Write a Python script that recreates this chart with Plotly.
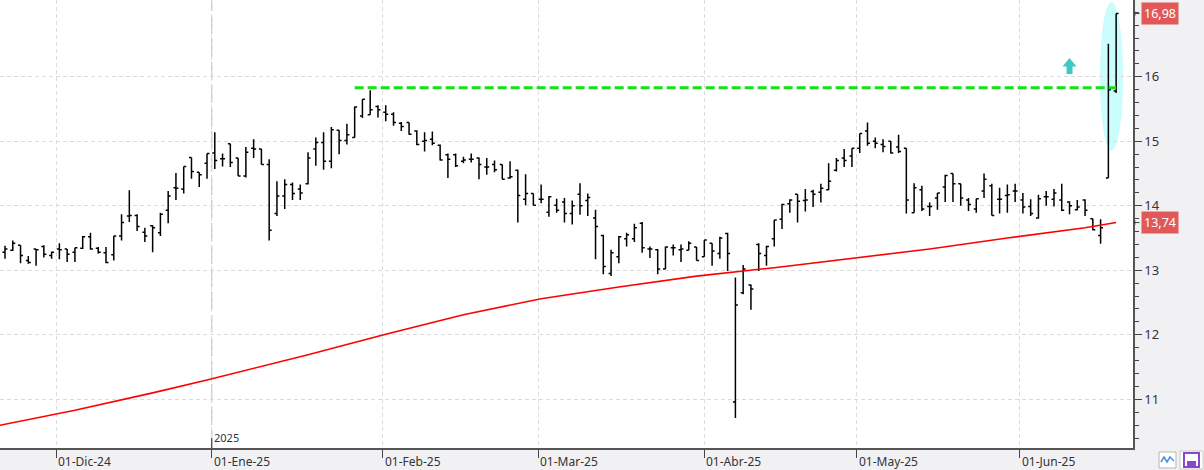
import pandas as pd
import plotly.graph_objects as go

# ---------------- data ----------------
open_ = [13.35, 13.28, 13.31, 13.39, 13.15, 13.33, 13.37, 13.23, 13.33, 13.33,
         13.28, 13.34, 13.52, 13.34, 13.27, 13.24, 13.53, 13.84, 13.85, 13.59,
         13.69, 13.58, 13.93, 14.28, 14.26, 14.75, 14.52, 14.66, 14.82, 14.73,
         14.96, 14.74, 14.46, 14.89, 14.88, 14.64, 13.88, 14.15, 14.33, 14.26,
         14.34, 14.88, 14.98, 14.69, 15.17, 15.01, 15.06, 15.39, 15.41, 15.54,
         15.45, 15.42, 15.28, 15.29, 15.16, 15.00, 15.03, 14.94, 14.79, 14.79,
         14.69, 14.72, 14.74, 14.60, 14.64, 14.64, 14.43, 14.55, 14.10, 14.19,
         14.10, 13.90, 14.01, 14.06, 13.88, 14.18, 14.08, 13.81, 13.54, 12.95,
         13.21, 13.49, 13.49, 13.73, 13.33, 13.32, 13.02, 13.35, 13.32, 13.31,
         13.36, 13.21, 13.42, 13.26, 13.57, 10.96, 12.65, 12.77, 13.40, 13.23,
         13.49, 13.79, 14.03, 14.18, 14.08, 14.22, 14.21, 14.25, 14.55, 14.74,
         14.77, 14.89, 15.16, 15.00, 14.95, 15.00, 14.91, 14.89, 13.89, 14.25,
         13.99, 14.12, 14.29, 14.50, 14.34, 14.09, 13.95, 14.23, 14.31, 14.10,
         14.16, 14.23, 14.09, 13.99, 13.81, 14.14, 14.10, 14.09, 14.06, 13.94,
         14.09, 13.80, 13.54, 14.43, 15.78]
high = [13.45, 13.38, 13.46, 13.39, 13.22, 13.33, 13.39, 13.29, 13.42, 13.33,
        13.35, 13.53, 13.58, 13.36, 13.36, 13.53, 13.87, 14.24, 13.87, 13.66,
        13.70, 13.89, 14.23, 14.51, 14.61, 14.75, 14.52, 14.81, 15.14, 14.81,
        14.96, 14.74, 14.91, 15.03, 14.88, 14.72, 14.38, 14.41, 14.36, 14.33,
        14.83, 15.06, 15.14, 15.22, 15.17, 15.27, 15.54, 15.65, 15.79, 15.56,
        15.56, 15.45, 15.30, 15.29, 15.17, 15.14, 15.15, 14.95, 14.81, 14.81,
        14.76, 14.81, 14.75, 14.74, 14.70, 14.64, 14.69, 14.56, 14.49, 14.19,
        14.33, 14.15, 14.11, 14.12, 14.08, 14.35, 14.19, 13.94, 13.55, 13.32,
        13.53, 13.58, 13.72, 13.75, 13.37, 13.33, 13.37, 13.40, 13.40, 13.45,
        13.36, 13.47, 13.42, 13.52, 13.58, 12.89, 13.08, 12.78, 13.42, 13.38,
        13.78, 14.03, 14.10, 14.18, 14.26, 14.25, 14.34, 14.66, 14.74, 14.88,
        14.89, 15.12, 15.29, 15.06, 15.03, 15.00, 15.10, 14.89, 14.35, 14.31,
        14.05, 14.20, 14.48, 14.50, 14.34, 14.12, 14.11, 14.50, 14.34, 14.28,
        14.33, 14.34, 14.20, 14.10, 14.17, 14.23, 14.26, 14.34, 14.07, 14.09,
        14.10, 13.80, 13.79, 16.51, 16.98]
low = [13.30, 13.18, 13.30, 13.11, 13.10, 13.07, 13.20, 13.18, 13.17, 13.13,
       13.13, 13.33, 13.32, 13.26, 13.11, 13.15, 13.46, 13.75, 13.61, 13.44,
       13.28, 13.53, 13.73, 14.09, 14.19, 14.42, 14.29, 14.42, 14.57, 14.61,
       14.60, 14.46, 14.44, 14.74, 14.64, 13.46, 13.84, 13.95, 14.09, 14.09,
       14.33, 14.62, 14.56, 14.58, 14.80, 14.95, 15.06, 15.36, 15.41, 15.37,
       15.31, 15.24, 15.16, 15.10, 14.94, 14.84, 14.94, 14.70, 14.43, 14.60,
       14.66, 14.67, 14.41, 14.48, 14.52, 14.41, 14.42, 13.74, 14.01, 14.01,
       14.04, 13.83, 13.89, 13.74, 13.71, 13.86, 13.84, 13.17, 12.94, 12.91,
       13.11, 13.37, 13.44, 13.27, 13.19, 12.94, 13.02, 13.23, 13.13, 13.31,
       13.15, 13.21, 13.07, 13.18, 12.99, 10.71, 12.63, 12.39, 12.99, 13.07,
       13.37, 13.64, 13.89, 13.74, 13.91, 13.98, 14.05, 14.24, 14.53, 14.60,
       14.60, 14.82, 14.93, 14.89, 14.83, 14.81, 14.82, 13.88, 13.89, 13.92,
       13.84, 13.94, 14.06, 14.06, 14.00, 13.92, 13.89, 14.12, 13.85, 13.88,
       13.89, 14.06, 13.88, 13.84, 13.80, 14.00, 13.99, 13.92, 13.87, 13.93,
       13.84, 13.62, 13.41, 14.43, 15.75]
close = [13.38, 13.33, 13.42, 13.23, 13.12, 13.32, 13.25, 13.28, 13.32, 13.25,
         13.35, 13.52, 13.33, 13.28, 13.12, 13.53, 13.74, 13.85, 13.68, 13.53,
         13.66, 13.87, 14.15, 14.27, 14.61, 14.53, 14.48, 14.81, 14.70, 14.73,
         14.67, 14.46, 14.83, 14.88, 14.64, 13.62, 14.15, 14.33, 14.19, 14.20,
         14.74, 14.98, 14.69, 15.18, 15.01, 15.10, 15.53, 15.65, 15.49, 15.49,
         15.42, 15.29, 15.23, 15.11, 14.95, 15.01, 14.97, 14.71, 14.72, 14.62,
         14.71, 14.72, 14.64, 14.60, 14.56, 14.41, 14.45, 14.16, 14.19, 14.01,
         14.10, 14.14, 13.93, 13.88, 14.00, 14.00, 14.13, 13.68, 13.06, 13.27,
         13.52, 13.55, 13.66, 13.35, 13.33, 13.02, 13.36, 13.35, 13.33, 13.42,
         13.15, 13.47, 13.30, 13.50, 13.26, 12.46, 13.02, 12.71, 13.26, 13.37,
         13.78, 14.02, 14.09, 14.07, 14.09, 14.18, 14.27, 14.38, 14.70, 14.70,
         14.89, 15.12, 14.97, 14.97, 14.92, 14.82, 14.84, 14.09, 14.28, 13.95,
         13.99, 14.20, 14.47, 14.34, 14.12, 14.02, 14.11, 14.41, 13.85, 14.10,
         14.17, 14.23, 13.98, 13.88, 14.11, 14.14, 14.20, 13.93, 14.00, 13.98,
         13.93, 13.63, 13.66, 15.80, 16.98]

# moving average (red line), read at some bar positions
ma_idx = [0, 10, 20, 27, 40, 50, 60, 70, 80, 90, 100, 110, 120, 130, 140, 144]
ma_vals = [10.59, 10.83, 11.10, 11.30, 11.69, 12.01, 12.31, 12.56, 12.74, 12.91,
           13.04, 13.19, 13.33, 13.50, 13.66, 13.74]

resistance = 15.83
resistance_start = 46

holidays = ["2024-12-25", "2024-12-26", "2025-01-01", "2025-04-18", "2025-04-21", "2025-05-01"]
month_starts = ["2024-12-01", "2025-01-01", "2025-02-01", "2025-03-01",
                "2025-04-01", "2025-05-01", "2025-06-01"]
month_labels = ["01-Dic-24", "01-Ene-25", "01-Feb-25", "01-Mar-25",
                "01-Abr-25", "01-May-25", "01-Jun-25"]
y_ticks = [11, 12, 13, 14, 15, 16]

# ---------------- derived ----------------
days = [d for d in pd.bdate_range("2024-11-20", "2025-06-18")
        if d.strftime("%Y-%m-%d") not in holidays]
n = len(close)
days = days[:n]
idx = list(range(n))

tickpos = []
for ms in month_starts:
    t = pd.Timestamp(ms)
    i = next(k for k, d in enumerate(days) if d >= t)
    tickpos.append(i if days[i] == t else i - 0.4)
year_pos = tickpos[1]

FONT = "Noto Sans, Open Sans, DejaVu Sans, sans-serif"

fig = go.Figure()

# highlight ellipse behind last bars
fig.add_shape(type="circle", xref="x", yref="y",
              x0=idx[-2] - 1.1, x1=idx[-1] + 0.9, y0=14.85, y1=17.16,
              fillcolor="#ccfdfd", line=dict(width=0), layer="below")

# moving average
fig.add_trace(go.Scatter(x=ma_idx, y=ma_vals, mode="lines",
                         line=dict(color="#ff0000", width=1.6), hoverinfo="skip"))

# resistance line
fig.add_trace(go.Scatter(x=[resistance_start, idx[-1]], y=[resistance, resistance],
                         mode="lines", line=dict(color="#16e016", width=3, dash="9px,4px"),
                         hoverinfo="skip"))

# OHLC bars
fig.add_trace(go.Ohlc(x=idx, open=open_, high=high, low=low, close=close,
                      increasing=dict(line=dict(color="black")),
                      decreasing=dict(line=dict(color="black")),
                      line=dict(width=1.5), tickwidth=0.32, hoverinfo="skip"))

# teal up arrow
fig.add_shape(type="path", xref="x", yref="y", xsizemode="pixel", ysizemode="pixel",
              xanchor=138.0, yanchor=16.16,
              path="M -7,0 L 0,8.5 L 7,0 L 3,0 L 3,-7.5 L -3,-7.5 L -3,0 Z",
              fillcolor="#3ec8c8", line=dict(width=0))

# 2025 year separator
fig.add_shape(type="line", xref="x", yref="paper", x0=year_pos, x1=year_pos, y0=0, y1=1,
              line=dict(color="#cdcdcd", width=1.5, dash="18px,5px"), layer="below")
fig.add_shape(type="line", xref="x", yref="paper", x0=year_pos, x1=year_pos, y0=0, y1=0.022,
              line=dict(color="#444", width=1.2))

annotations = []
for p, lab in zip(tickpos, month_labels):
    annotations.append(dict(x=p, y=0, xref="x", yref="paper", xanchor="left", yanchor="top",
                            yshift=-3, xshift=0, text=lab, showarrow=False,
                            font=dict(size=12, color="#333", family=FONT)))
annotations.append(dict(x=year_pos, y=0, xref="x", yref="paper", xanchor="left",
                        yanchor="bottom", yshift=1, xshift=0, text="2025", showarrow=False,
                        font=dict(size=11, color="#333", family=FONT)))
for val in [close[-1], ma_vals[-1]]:
    annotations.append(dict(x=1, y=val, xref="paper", yref="y", xanchor="left",
                            yanchor="middle", xshift=8, text=f"{val:.2f}".replace(".", ","),
                            showarrow=False, bgcolor="#e05858", borderpad=2,
                            font=dict(size=12.5, color="white", family=FONT)))
    annotations.append(dict(x=1, y=val, xref="paper", yref="y", ax=8, ay=0, text="",
                            showarrow=True, arrowhead=1, arrowsize=0.8, arrowwidth=1,
                            arrowcolor="#444", standoff=0))

# small icons bottom right
shapes = [
    dict(type="rect", xref="paper", yref="paper", xsizemode="pixel", ysizemode="pixel",
         xanchor=1, yanchor=0, x0=26, x1=43, y0=-4, y1=-20,
         fillcolor="white", line=dict(color="#b5b5b5", width=1)),
    dict(type="path", xref="paper", yref="paper", xsizemode="pixel", ysizemode="pixel",
         xanchor=1, yanchor=0, path="M 28,-14 L 31,-9 L 34,-14 L 37,-9 L 41,-13",
         line=dict(color="#4a90d9", width=1.5)),
    dict(type="rect", xref="paper", yref="paper", xsizemode="pixel", ysizemode="pixel",
         xanchor=1, yanchor=0, x0=47, x1=70, y0=-3, y1=-21,
         fillcolor="white", line=dict(color="#c8c8c8", width=1)),
    dict(type="rect", xref="paper", yref="paper", xsizemode="pixel", ysizemode="pixel",
         xanchor=1, yanchor=0, x0=51, x1=66, y0=-5, y1=-19,
         fillcolor="white", line=dict(color="#8a48c8", width=2)),
    dict(type="rect", xref="paper", yref="paper", xsizemode="pixel", ysizemode="pixel",
         xanchor=1, yanchor=0, x0=54, x1=63, y0=-13, y1=-19,
         fillcolor="#8a48c8", line=dict(width=0)),
]
for s in shapes:
    fig.add_shape(**s)

fig.update_layout(
    width=1204, height=470,
    margin=dict(l=0, r=71, t=0, b=22),
    paper_bgcolor="#f1f1f3", plot_bgcolor="white",
    showlegend=False, hovermode=False,
    font=dict(family=FONT, color="#333"),
    annotations=annotations,
)
fig.update_xaxes(range=[0.357, 146.17], tickmode="array", tickvals=tickpos,
                 showticklabels=False, ticks="outside", ticklen=8, tickcolor="#444",
                 tickwidth=1, showline=True, linecolor="#555", linewidth=1.5,
                 showgrid=True, gridcolor="#dcdcdc", griddash="4px,3px", gridwidth=1,
                 zeroline=False, rangeslider=dict(visible=False), fixedrange=True)
fig.update_yaxes(side="right", range=[10.245, 17.19], tickmode="array", tickvals=y_ticks,
                 ticks="outside", ticklen=7, tickcolor="#444", tickwidth=1,
                 showline=True, linecolor="#555", linewidth=1.5,
                 showgrid=True, gridcolor="#dcdcdc", griddash="4px,3px", gridwidth=1,
                 zeroline=False, tickfont=dict(size=13, color="#333", family=FONT),
                 minor=dict(tickmode="linear", tick0=0, dtick=0.2, ticks="outside",
                            ticklen=4, tickcolor="#444", showgrid=False),
                 fixedrange=True)

fig.write_html("out.html", config={"displayModeBar": False})
